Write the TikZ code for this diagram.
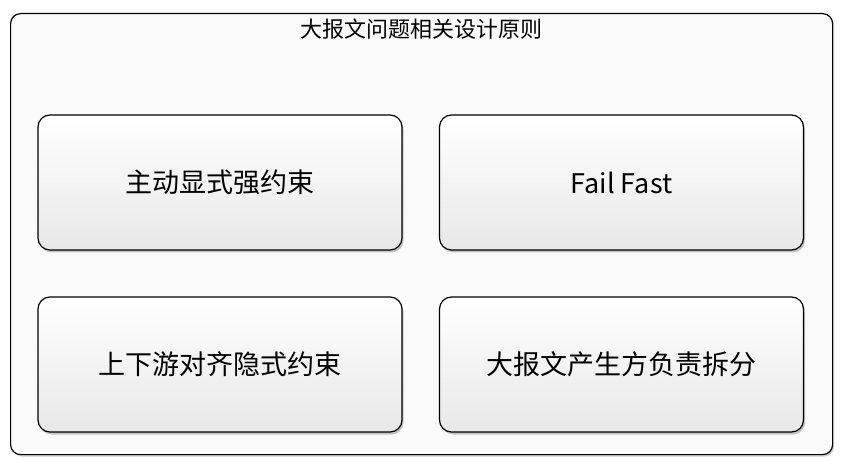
\documentclass[tikz,border=0pt]{standalone}
\usepackage{fontspec}
\setmainfont{Noto Sans CJK SC}
\usepackage{tikz}
\usetikzlibrary{positioning,shadows}

\begin{document}
\begin{tikzpicture}[
  x=1pt, y=-1pt,
  frame/.style={rectangle, rounded corners=10pt, draw=black, line width=1.2pt, fill=gray!4, drop shadow={shadow xshift=1.5pt, shadow yshift=-2pt, opacity=0.4}, minimum width=822pt, minimum height=441pt, anchor=north west},
  principle/.style={rectangle, rounded corners=12pt, draw=black, line width=1.2pt, top color=white, bottom color=gray!18, drop shadow={shadow xshift=1.5pt, shadow yshift=-2.5pt, opacity=0.45}, minimum width=364pt, minimum height=135pt, font=\fontsize{27}{32}\selectfont}
]
  \useasboundingbox (0,0) rectangle (846,462);
  \node[frame] (outer) at (10,13) {};
  \node[font=\fontsize{22}{26}\selectfont, below=2pt of outer.north] (title) {大报文问题相关设计原则};

  \node[principle] (explicit) at (220,182.5) {主动显式强约束};
  \node[principle] (failfast) at (621.5,182.5) {Fail Fast};
  \node[principle] (implicit) at (220,364.5) {上下游对齐隐式约束};
  \node[principle] (producer) at (621.5,364.5) {大报文产生方负责拆分};
\end{tikzpicture}
\end{document}
